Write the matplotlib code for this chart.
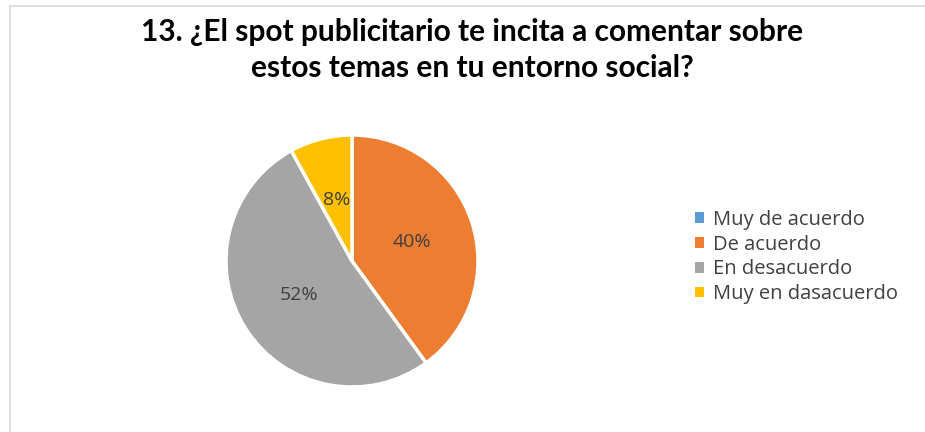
import matplotlib.pyplot as plt
from matplotlib.patches import Rectangle
from matplotlib.lines import Line2D

# encuesta pregunta 13
categorias = ['Muy de acuerdo', 'De acuerdo', 'En desacuerdo', 'Muy en dasacuerdo']
porcentajes = [0, 40, 52, 8]
colores = ['#5B9BD5', '#ED7D31', '#A5A5A5', '#FFC000']
titulo = '13. ¿El spot publicitario te incita a comentar sobre\nestos temas en tu entorno social?'

W, H = 925, 432
fig = plt.figure(figsize=(W / 100, H / 100), dpi=100)
fig.patch.set_facecolor('white')

# marco gris del grafico
fig.add_artist(Line2D([9.5 / W, 9.5 / W], [0, 1 - 6 / H], color='#D9D9D9', lw=1.2))
fig.add_artist(Line2D([9.5 / W, 1], [1 - 6 / H, 1 - 6 / H], color='#D9D9D9', lw=1.2))

fig.text(472 / W, 1 - 50 / H, titulo, ha='center', va='center', fontsize=21.5,
         fontweight='bold', family='Lato', color='#000000', linespacing=1.35)

# pastel
cx, cy, r = 352, 261, 126
lim = 1.03
ax = fig.add_axes([(cx - r * lim) / W, (H - cy - r * lim) / H, 2 * r * lim / W, 2 * r * lim / H])

def etiqueta(p):
    return '%d%%' % round(p) if p > 0.5 else ''

wedges, txt, autot = ax.pie(porcentajes, colors=colores, startangle=90, counterclock=False,
                            autopct=etiqueta, pctdistance=0.5,
                            wedgeprops=dict(edgecolor='white', linewidth=2.5),
                            textprops=dict(color='#404040', fontsize=14, family='Open Sans'))
ax.set_xlim(-lim, lim)
ax.set_ylim(-lim, lim)
ax.set_aspect('equal')
ax.axis('off')

handles = [Rectangle((0, 0), 1, 1, facecolor=c, edgecolor='none') for c in colores]
fig.legend(handles, categorias, loc='center left', bbox_to_anchor=(677 / W, 1 - 257 / H),
           frameon=False, prop=dict(family='Open Sans', size=14.5),
           handlelength=0.45, handleheight=0.45, handletextpad=0.45, labelspacing=0.24,
           labelcolor='#404040')

fig.savefig('out.png', dpi=100, facecolor='white')
